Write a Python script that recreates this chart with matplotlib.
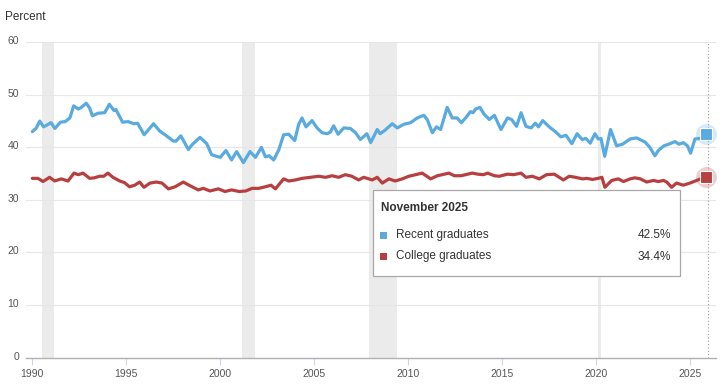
import matplotlib
matplotlib.use("Agg")
import matplotlib.pyplot as plt
import matplotlib.transforms as mtrans
from matplotlib.patches import Rectangle

plt.rcParams['font.family'] = ['Liberation Sans', 'DejaVu Sans']

# decimal years
recent_t = [1990.0, 1990.2, 1990.4, 1990.6, 1991.0, 1991.2, 1991.5, 1991.75, 1992.0, 1992.2,
            1992.45, 1992.6, 1992.87, 1993.05, 1993.2, 1993.5, 1993.85, 1994.1, 1994.35, 1994.45,
            1994.8, 1995.1, 1995.4, 1995.6, 1995.95, 1996.45, 1996.78, 1997.06, 1997.5, 1997.65,
            1997.9, 1998.3, 1998.5, 1998.92, 1999.28, 1999.54, 1999.8, 2000.0, 2000.3, 2000.6,
            2000.87, 2001.23, 2001.58, 2001.87, 2002.19, 2002.4, 2002.6, 2002.84, 2003.11, 2003.37,
            2003.64, 2003.96, 2004.17, 2004.35, 2004.56, 2004.88, 2005.15, 2005.41, 2005.68, 2005.85,
            2006.03, 2006.27, 2006.57, 2006.92, 2007.19, 2007.45, 2007.8, 2008.0, 2008.35, 2008.5,
            2008.74, 2009.15, 2009.41, 2009.77, 2010.12, 2010.48, 2010.83, 2011.01, 2011.28, 2011.5,
            2011.72, 2012.07, 2012.34, 2012.6, 2012.82, 2013.05, 2013.31, 2013.45, 2013.58, 2013.81,
            2014.04, 2014.31, 2014.58, 2014.93, 2015.28, 2015.5, 2015.76, 2016.0, 2016.26, 2016.53,
            2016.76, 2016.93, 2017.15, 2017.5, 2017.82, 2018.12, 2018.39, 2018.7, 2018.98, 2019.25,
            2019.45, 2019.68, 2019.93, 2020.1, 2020.25, 2020.45, 2020.76, 2021.08, 2021.4, 2021.8,
            2022.15, 2022.6, 2022.85, 2023.12, 2023.3, 2023.6, 2023.85, 2024.19, 2024.4, 2024.63,
            2024.85, 2025.02, 2025.25, 2025.52, 2025.7, 2025.83]
recent = [43.0, 43.6, 45.0, 43.9, 44.7, 43.6, 44.8, 44.9, 45.6, 47.9,
          47.3, 47.6, 48.4, 47.5, 46.0, 46.5, 46.6, 48.2, 47.0, 47.2,
          44.8, 44.9, 44.5, 44.6, 42.4, 44.5, 43.1, 42.4, 41.2, 41.2,
          42.2, 39.6, 40.5, 41.9, 40.7, 38.6, 38.3, 38.1, 39.4, 37.6,
          39.2, 37.1, 39.2, 38.1, 40.0, 38.2, 38.4, 37.6, 39.5, 42.4,
          42.5, 41.3, 44.4, 45.6, 43.9, 45.1, 43.7, 42.8, 42.6, 42.9,
          44.1, 42.5, 43.7, 43.6, 42.8, 41.5, 42.6, 40.9, 43.4, 42.6,
          43.2, 44.5, 43.7, 44.4, 44.7, 45.6, 46.1, 45.3, 42.8, 43.9,
          43.4, 47.6, 45.6, 45.6, 44.7, 45.6, 46.8, 46.6, 47.3, 47.6,
          46.3, 45.3, 46.1, 43.4, 45.6, 45.3, 44.0, 46.6, 44.0, 43.7,
          44.6, 43.9, 45.1, 43.9, 43.0, 42.0, 42.3, 40.7, 42.6, 41.5,
          41.7, 40.8, 42.6, 41.6, 41.7, 38.3, 43.4, 40.3, 40.6, 41.6,
          41.8, 41.0, 40.0, 38.4, 39.4, 40.3, 40.6, 41.1, 40.6, 40.9,
          40.3, 38.9, 41.6, 41.7, 42.1, 42.5]

college_t = [1990.0, 1990.3, 1990.57, 1990.92, 1991.19, 1991.54, 1991.9, 1992.22, 1992.45, 1992.7,
             1993.05, 1993.3, 1993.58, 1993.8, 1994.02, 1994.29, 1994.65, 1994.9, 1995.17, 1995.45,
             1995.71, 1995.94, 1996.26, 1996.6, 1996.9, 1997.24, 1997.6, 1998.03, 1998.39, 1998.83,
             1999.1, 1999.45, 1999.9, 2000.25, 2000.6, 2001.0, 2001.35, 2001.7, 2002.05, 2002.4,
             2002.7, 2002.93, 2003.37, 2003.64, 2004.0, 2004.35, 2004.8, 2005.24, 2005.6, 2005.95,
             2006.3, 2006.65, 2007.0, 2007.36, 2007.63, 2008.08, 2008.35, 2008.62, 2008.97, 2009.3,
             2009.68, 2010.03, 2010.39, 2010.74, 2011.19, 2011.55, 2011.8, 2012.16, 2012.45, 2012.8,
             2013.05, 2013.4, 2013.7, 2014.0, 2014.22, 2014.58, 2014.84, 2015.28, 2015.6, 2016.0,
             2016.26, 2016.6, 2016.97, 2017.35, 2017.77, 2018.25, 2018.56, 2018.9, 2019.27, 2019.5,
             2019.8, 2020.1, 2020.3, 2020.46, 2020.82, 2021.17, 2021.45, 2021.8, 2022.06, 2022.35,
             2022.68, 2023.04, 2023.3, 2023.57, 2023.75, 2024.01, 2024.27, 2024.63, 2024.98, 2025.34,
             2025.6, 2025.83]
college = [34.1, 34.1, 33.5, 34.3, 33.6, 34.0, 33.6, 35.1, 34.8, 35.1,
           34.1, 34.2, 34.5, 34.5, 35.1, 34.3, 33.6, 33.3, 32.5, 32.8,
           33.4, 32.4, 33.2, 33.4, 33.2, 32.1, 32.5, 33.4, 32.7, 31.9,
           32.2, 31.7, 32.1, 31.6, 31.9, 31.6, 31.7, 32.2, 32.2, 32.5,
           32.8, 32.1, 34.0, 33.6, 33.8, 34.1, 34.3, 34.5, 34.3, 34.6,
           34.3, 34.8, 34.5, 33.8, 34.3, 33.8, 34.3, 33.2, 34.0, 33.6,
           34.0, 34.5, 34.8, 35.1, 34.0, 34.6, 34.8, 35.1, 34.6, 34.6,
           34.8, 35.1, 34.9, 34.8, 35.1, 34.6, 34.5, 34.9, 34.8, 35.1,
           34.3, 34.5, 34.0, 34.8, 34.9, 33.8, 34.5, 34.3, 34.0, 34.1,
           33.9, 34.1, 34.3, 32.4, 33.7, 34.0, 33.5, 34.0, 34.2, 34.0,
           33.4, 33.7, 33.5, 33.7, 33.4, 32.4, 33.2, 32.8, 33.2, 33.7,
           34.1, 34.4]

recessions = [(1990.5, 1991.17), (2001.17, 2001.83), (2007.92, 2009.42), (2020.08, 2020.25)]
x_ticks = [1990, 1995, 2000, 2005, 2010, 2015, 2020, 2025]
y_ticks = [0, 10, 20, 30, 40, 50, 60]

blue = '#59abdf'
red = '#b83f3f'

W, H = 728, 386
fig = plt.figure(figsize=(W / 100, H / 100), dpi=100)
ax = fig.add_axes([26 / W, 28.5 / H, 690 / W, 315.2 / H])

for a, b in recessions:
    ax.axvspan(a, b, color='#ebebeb', lw=0, zorder=0)

for y in y_ticks[1:]:
    ax.axhline(y, color='#e6e6e6', lw=0.8, zorder=0.5)

ax.axvline(2025.92, color='#999999', lw=0.8, ls=(0, (1, 2)), zorder=1)

ax.plot(recent_t, recent, color=blue, lw=2.3, zorder=3, solid_capstyle='round')
ax.plot(college_t, college, color=red, lw=2.3, zorder=3, solid_capstyle='round')

# highlighted last points
ax.plot(recent_t[-1], recent[-1], 'o', ms=15, color=blue, alpha=0.25, mec='none', zorder=4, clip_on=False)
ax.plot(recent_t[-1], recent[-1], 's', ms=8.5, color=blue, mec='white', mew=0.8, zorder=5, clip_on=False)
ax.plot(college_t[-1], college[-1], 'o', ms=15, color=red, alpha=0.25, mec='none', zorder=4, clip_on=False)
ax.plot(college_t[-1], college[-1], 's', ms=8.5, color=red, mec='white', mew=0.8, zorder=5, clip_on=False)

ax.set_xlim(1989.665, 2026.37)
ax.set_ylim(0, 60)
ax.set_xticks(x_ticks)
ax.set_xticklabels([str(t) for t in x_ticks])
ax.set_yticks(y_ticks)
ax.set_yticklabels([str(t) for t in y_ticks])
for s in ['top', 'right', 'left']:
    ax.spines[s].set_visible(False)
ax.spines['bottom'].set_color('#b0b0b0')
ax.spines['bottom'].set_linewidth(1)
ax.tick_params(axis='x', length=5, width=0.8, color='#ccd6eb', labelsize=7.5,
               labelcolor='#555555', pad=3)
ax.tick_params(axis='y', length=0, labelsize=7.5, labelcolor='#555555', pad=5)
lift = mtrans.ScaledTranslation(0, 2 / 100, fig.dpi_scale_trans)
for lab in ax.get_yticklabels():
    lab.set_transform(lab.get_transform() + lift)

fig.text(5 / W, 1 - 17 / H, 'Percent', fontsize=8.5, color='#333333', va='center', ha='left')

# tooltip box
bx0, by0, bx1, by1 = 373, 190, 680, 276
fig.add_artist(Rectangle((bx0 / W, 1 - by1 / H), (bx1 - bx0) / W, (by1 - by0) / H,
                         transform=fig.transFigure, facecolor='white', edgecolor='#a8a8a8',
                         lw=0.9, zorder=10))
fig.text(381 / W, 1 - 208 / H, 'November 2025', fontsize=8.5, fontweight='bold',
         color='#333333', va='center', ha='left', zorder=11)
rows = [('Recent graduates', recent[-1], blue, 235), ('College graduates', college[-1], red, 256.5)]
for name, val, col, yy in rows:
    fig.add_artist(Rectangle((380 / W, 1 - (yy + 3.5) / H), 7 / W, 7 / H,
                             transform=fig.transFigure, facecolor=col, edgecolor='none', zorder=11))
    fig.text(396 / W, 1 - yy / H, name, fontsize=8.5, color='#333333', va='center', ha='left', zorder=11)
    fig.text(671 / W, 1 - yy / H, f'{val:.1f}%', fontsize=8.5, color='#333333', va='center',
             ha='right', zorder=11)

fig.savefig('out.png', dpi=100)
